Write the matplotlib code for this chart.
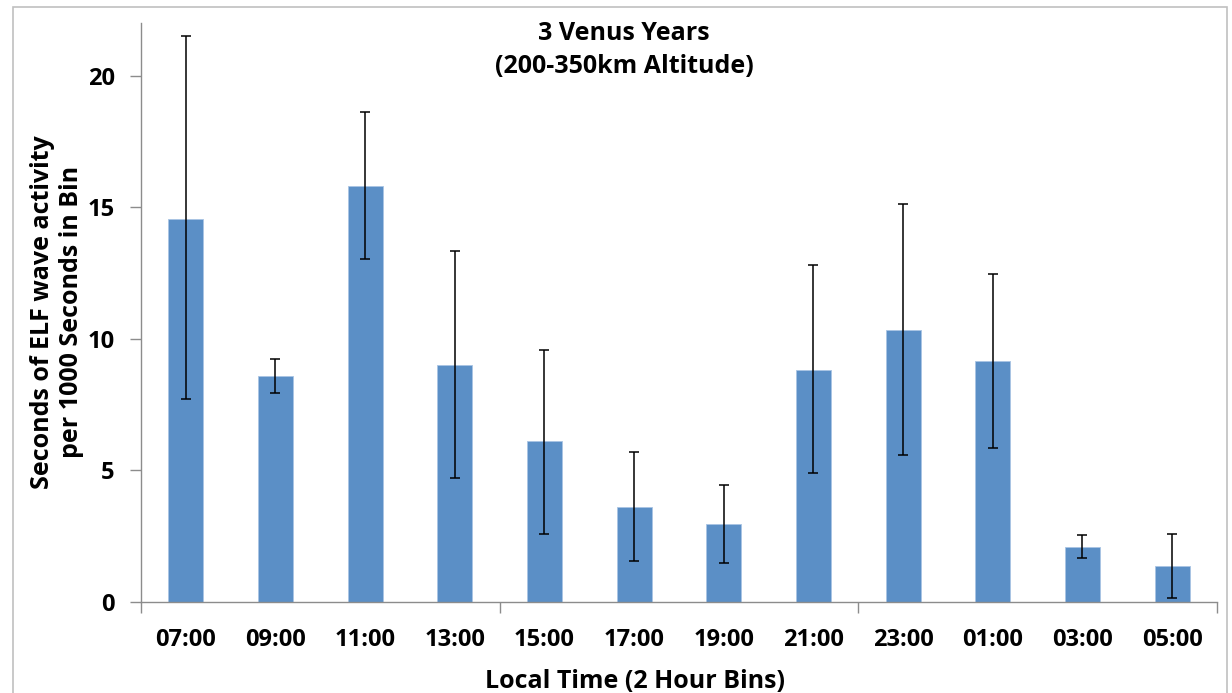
import numpy as np
import matplotlib.pyplot as plt
from matplotlib.patches import Rectangle

plt.rcParams['font.family'] = ['Open Sans', 'DejaVu Sans']
plt.rcParams['font.weight'] = 'bold'

# local time bins and ELF activity (seconds per 1000 s in bin)
times = ["07:00", "09:00", "11:00", "13:00", "15:00", "17:00",
         "19:00", "21:00", "23:00", "01:00", "03:00", "05:00"]
activity = [14.57, 8.59, 15.81, 9.00, 6.10, 3.61, 2.97, 8.82, 10.34, 9.15, 2.09, 1.36]
err_top = [21.49, 9.25, 18.63, 13.32, 9.59, 5.69, 4.44, 12.79, 15.11, 12.48, 2.54, 2.57]
err_bottom = [7.72, 7.94, 13.02, 4.71, 2.60, 1.56, 1.48, 4.89, 5.59, 5.87, 1.67, 0.16]

vals = np.array(activity)
yerr = [vals - np.array(err_bottom), np.array(err_top) - vals]

fig = plt.figure(figsize=(12.32, 6.93), dpi=100)
ax = fig.add_axes([0.1144, 0.1313, 0.8734, 0.8355])

x = np.arange(len(times))
ax.bar(x, vals, width=0.39, color='#5b8fc6', edgecolor='#a9c4e4', linewidth=0.6)
ax.errorbar(x, vals, yerr=yerr, fmt='none', ecolor='black', elinewidth=1.1,
            capsize=3.8, capthick=1.1)

ax.set_xlim(-0.5, len(times) - 0.5)
ax.set_ylim(0, 22)
ax.set_yticks([0, 5, 10, 15, 20])

ax.set_xticks(x)
ax.set_xticklabels(times)
ax.set_xticks([-0.5, 3.5, 7.5, 11.5], minor=True)
ax.tick_params(axis='x', which='major', length=0, pad=19, labelsize=17)
ax.tick_params(axis='x', which='minor', length=8, width=1, color='#8c8c8c')
ax.tick_params(axis='y', length=8, width=1, color='#8c8c8c', pad=11, labelsize=17)

for s in ['top', 'right']:
    ax.spines[s].set_visible(False)
for s in ['left', 'bottom']:
    ax.spines[s].set_color('#8c8c8c')
    ax.spines[s].set_linewidth(1)

fig.text(624/1232, 1 - 50/693, "3 Venus Years\n(200-350km Altitude)", ha='center', va='center',
         fontsize=18, fontweight='bold', linespacing=1.4)
fig.text(57/1232, 1 - 312/693, "Seconds of ELF wave activity\nper 1000 Seconds in Bin",
         rotation=90, ha='center', va='center', fontsize=18, fontweight='bold',
         multialignment='center', linespacing=1.2)
fig.text(635/1232, 1 - 681/693, "Local Time (2 Hour Bins)", ha='center', va='center',
         fontsize=18, fontweight='bold')

# chart area border (cropped at bottom)
fig.patches.append(Rectangle((13/1232, -0.05), (1227 - 13)/1232, 1.05 - 7/693,
                             transform=fig.transFigure, fill=False,
                             edgecolor='#c0c0c0', linewidth=1.2))

fig.savefig('out.png', dpi=100)
